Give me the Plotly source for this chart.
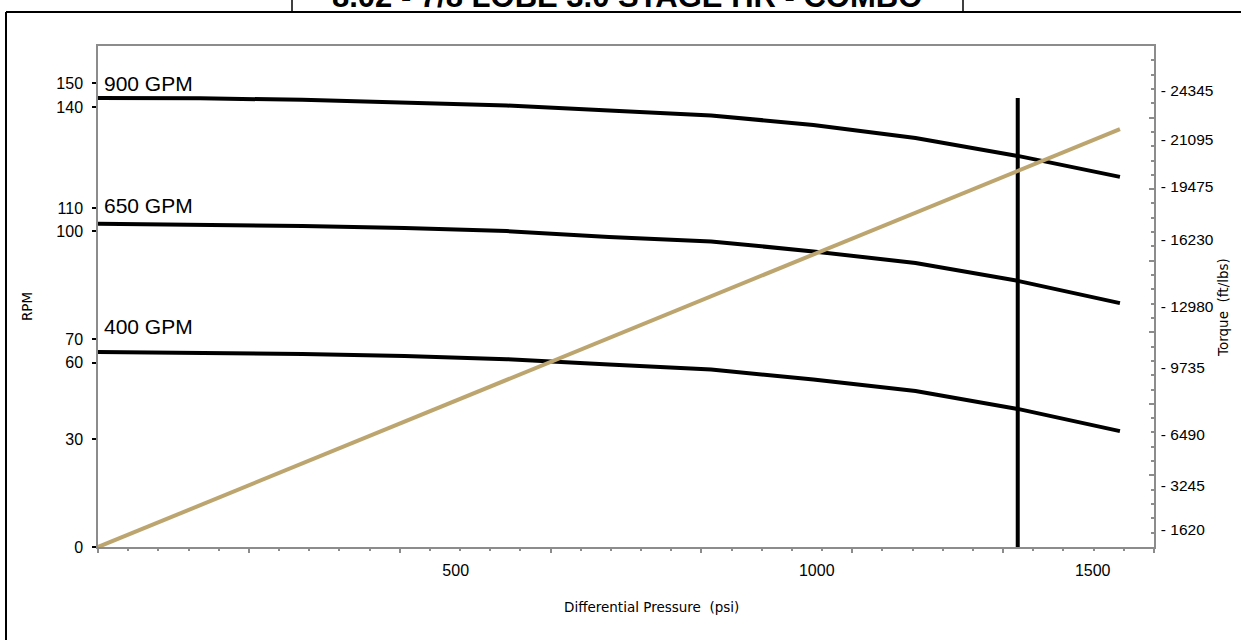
import plotly.graph_objects as go

# ---- data ----
pressure = [0, 150, 300, 450, 600, 750, 900, 1050, 1200, 1350, 1500]
rpm_900 = [143.4, 143.3, 142.8, 142.0, 141.0, 139.4, 137.8, 134.8, 130.6, 124.9, 118.2]
rpm_650 = [103.2, 103.0, 102.5, 101.9, 100.9, 99.0, 97.6, 94.4, 90.7, 85.0, 77.9]
rpm_400 = [62.3, 62.1, 61.6, 61.0, 60.0, 58.3, 56.7, 53.5, 49.8, 44.1, 37.0]
torque = [0, 2344, 4688, 7032, 9376, 11720, 14063, 16407, 18751, 21095, 23439]
max_pressure = 1350
max_rpm = 143.4
flow_labels = ["900 GPM", "650 GPM", "400 GPM"]
flow_label_y = [148.1, 109.2, 70.4]

rpm_tick_text = ["0", "30", "60", "70", "100", "110", "140", "150"]
rpm_tick_pos = [0, 34.4, 58.9, 66.3, 100.8, 108.2, 140.4, 148.1]
torque_tick_text = ["1620", "3245", "6490", "9735", "12980", "16230", "19475", "21095", "24345"]
torque_tick_pos = [953, 3421, 6282, 10040, 13461, 17220, 20193, 22829, 25577]
psi_tick_text = ["500", "1000", "1500"]
psi_tick_pos = [525, 1055, 1460]

title_text = "8.02 - 7/8 LOBE 3.0 STAGE HR - COMBO"

X_RANGE = [0, 1550]
Y_RANGE = [0, 160]
Y2_RANGE = [0, 28100]

BLACK = "#000000"
TAN = "#BDA56F"
GREY = "#8C8C8C"
FONT = "Liberation Sans, Arial, sans-serif"
FONT2 = "DejaVu Sans, Verdana, sans-serif"

fig = go.Figure()
for ys in (rpm_900, rpm_650, rpm_400):
    fig.add_trace(go.Scatter(x=pressure, y=ys, mode="lines",
                             line=dict(color=BLACK, width=4), showlegend=False,
                             xaxis="x", yaxis="y"))
fig.add_trace(go.Scatter(x=pressure, y=torque, mode="lines",
                         line=dict(color=TAN, width=4), showlegend=False,
                         xaxis="x", yaxis="y2"))
fig.add_trace(go.Scatter(x=[max_pressure, max_pressure], y=[0, max_rpm], mode="lines",
                         line=dict(color=BLACK, width=4), showlegend=False,
                         xaxis="x", yaxis="y"))
# invisible trace to activate the overlay tick axes
fig.add_trace(go.Scatter(x=[None], y=[None], xaxis="x2", yaxis="y3",
                         showlegend=False, hoverinfo="skip"))

fig.update_layout(
    width=1241, height=640,
    margin=dict(l=98, r=87, t=46, b=93),
    paper_bgcolor="white", plot_bgcolor="white",
    showlegend=False,
    xaxis=dict(range=X_RANGE, showgrid=False, zeroline=False,
               showline=True, linecolor=GREY, linewidth=1.5, mirror=True,
               tickmode="array", tickvals=psi_tick_pos, ticktext=psi_tick_text,
               ticks="", ticklabelstandoff=8,
               tickfont=dict(family=FONT, size=16, color=BLACK)),
    xaxis2=dict(range=X_RANGE, overlaying="x", side="bottom", showgrid=False,
                zeroline=False, showline=False, showticklabels=False,
                tick0=0, dtick=X_RANGE[1] / 7, ticks="outside", ticklen=5,
                tickcolor=GREY, tickwidth=1.5,
                minor=dict(tick0=0, dtick=X_RANGE[1] / 35, ticks="outside",
                           ticklen=3, tickcolor=GREY, tickwidth=1.5)),
    yaxis=dict(range=Y_RANGE, showgrid=False, zeroline=False,
               showline=True, linecolor=GREY, linewidth=1.5,
               tickmode="array", tickvals=rpm_tick_pos, ticktext=rpm_tick_text,
               ticks="outside", ticklen=4, tickcolor=BLACK, tickwidth=1.5,
               ticklabelstandoff=6,
               tickfont=dict(family=FONT, size=16, color=BLACK)),
    yaxis2=dict(range=Y2_RANGE, overlaying="y", side="right", showgrid=False,
                zeroline=False, showline=True, linecolor=GREY, linewidth=1.5,
                tickmode="array", tickvals=torque_tick_pos,
                ticktext=["- " + t for t in torque_tick_text],
                ticks="", ticklabelstandoff=2,
                tickfont=dict(family=FONT, size=15.5, color=BLACK)),
    yaxis3=dict(range=Y2_RANGE, overlaying="y", side="right", showgrid=False,
                zeroline=False, showline=False, showticklabels=False,
                tick0=0, dtick=Y2_RANGE[1] / 7, ticks="inside", ticklen=5,
                tickcolor=GREY, tickwidth=1.5,
                minor=dict(tick0=0, dtick=Y2_RANGE[1] / 35, ticks="inside",
                           ticklen=3, tickcolor=GREY, tickwidth=1.5)),
)

annotations = []
for lbl, yv in zip(flow_labels, flow_label_y):
    annotations.append(dict(text=lbl, x=0, y=yv, xref="x", yref="y",
                            xanchor="left", yanchor="middle", xshift=4,
                            showarrow=False,
                            font=dict(family=FONT, size=21, color=BLACK)))
annotations += [
    dict(text="Differential Pressure  (psi)", x=0.5237, y=-0.12, xref="paper", yref="paper",
         xanchor="center", yanchor="middle", showarrow=False,
         font=dict(family=FONT2, size=13.5, color=BLACK)),
    dict(text="RPM", x=-0.0672, y=0.479, xref="paper", yref="paper",
         xanchor="center", yanchor="middle", showarrow=False, textangle=-90,
         font=dict(family=FONT2, size=13.5, color=BLACK)),
    dict(text="Torque  (ft/lbs)", x=1.0653, y=0.479, xref="paper", yref="paper",
         xanchor="center", yanchor="middle", showarrow=False, textangle=-90,
         font=dict(family=FONT2, size=13.5, color=BLACK)),
    dict(text="<b>" + title_text + "</b>", x=(627 - 98) / 1056, y=(547 + 4) / 501,
         xref="paper", yref="paper", xanchor="center", yanchor="middle",
         showarrow=False, font=dict(family=FONT, size=31, color=BLACK)),
]
fig.update_layout(annotations=annotations)


# frame lines (page decoration)
def px_x(p):
    return (p - 98) / 1056


def px_y(p):
    return (547 - p) / 501


shapes = [
    dict(type="line", xref="paper", yref="paper", x0=px_x(6), x1=px_x(6),
         y0=px_y(12), y1=px_y(650), line=dict(color=BLACK, width=2)),
    dict(type="line", xref="paper", yref="paper", x0=px_x(6), x1=px_x(1241),
         y0=px_y(12), y1=px_y(12), line=dict(color=BLACK, width=2)),
    dict(type="line", xref="paper", yref="paper", x0=px_x(292), x1=px_x(292),
         y0=px_y(12), y1=px_y(-2), line=dict(color=BLACK, width=1.5)),
    dict(type="line", xref="paper", yref="paper", x0=px_x(963), x1=px_x(963),
         y0=px_y(12), y1=px_y(-2), line=dict(color=BLACK, width=1.5)),
]
fig.update_layout(shapes=shapes)

fig.write_html("out.html",
               config={"displayModeBar": False},
               post_script="document.body.style.margin='0px';document.body.style.overflow='hidden';")
